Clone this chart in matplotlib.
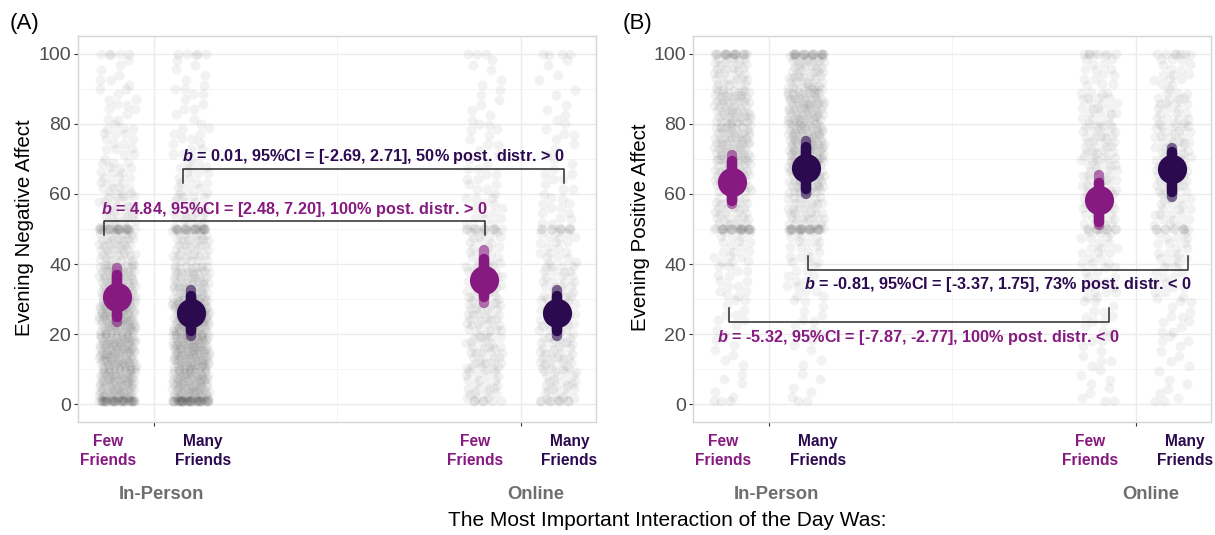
import matplotlib
matplotlib.use('Agg')
import matplotlib.pyplot as plt
from matplotlib.transforms import blended_transform_factory

plt.rcParams['font.family'] = ['Liberation Sans', 'DejaVu Sans']
plt.rcParams['mathtext.fontset'] = 'custom'
plt.rcParams['mathtext.rm'] = 'Liberation Sans:bold'
plt.rcParams['mathtext.bfit'] = 'Liberation Sans:bold:italic'

# categories (order of groups: in-person few, in-person many, online few, online many)
modes = ['In-Person', 'Online']
friend_labels = ['Few\nFriends', 'Many\nFriends']
group_mode = [1, 1, 2, 2]
group_friend = [0, 1, 0, 1]
friend_colors = ['#861A80', '#2C0A4F']

# posterior estimates
neg_est = [30.6, 26.0, 35.5, 26.2]
neg_lo_outer = [23.5, 19.5, 29.0, 19.5]
neg_hi_outer = [39.0, 32.5, 44.0, 32.5]
neg_lo_inner = [25.0, 21.0, 30.5, 21.0]
neg_hi_inner = [37.0, 31.0, 41.5, 31.0]

pos_est = [63.5, 67.5, 58.3, 67.0]
pos_lo_outer = [57.0, 60.0, 51.0, 59.0]
pos_hi_outer = [71.0, 75.0, 65.5, 73.0]
pos_lo_inner = [58.0, 61.5, 52.0, 60.5]
pos_hi_inner = [69.5, 73.5, 63.0, 72.0]

# raw responses: approximate counts per 10-point bin, plus heaped values
bin_edges = [1, 10, 20, 30, 40, 50, 60, 70, 80, 90, 100]
heap_values = [1, 50, 100]

neg_bins_ip_few = [85, 100, 95, 65, 45, 28, 22, 17, 12, 8]
neg_bins_ip_many = [90, 105, 95, 60, 40, 25, 18, 14, 10, 7]
neg_bins_on_few = [24, 33, 35, 30, 22, 16, 13, 10, 7, 5]
neg_bins_on_many = [26, 33, 33, 26, 19, 14, 11, 8, 6, 5]
neg_heaps_ip_few = [30, 18, 4]
neg_heaps_ip_many = [35, 18, 4]
neg_heaps_on_few = [6, 10, 3]
neg_heaps_on_many = [8, 8, 3]

pos_bins_ip_few = [6, 7, 10, 14, 20, 35, 50, 60, 55, 35]
pos_bins_ip_many = [5, 6, 9, 13, 20, 38, 60, 75, 70, 45]
pos_bins_on_few = [7, 9, 12, 15, 19, 23, 28, 30, 25, 17]
pos_bins_on_many = [6, 8, 11, 14, 18, 23, 28, 30, 25, 17]
pos_heaps_ip_few = [2, 18, 14]
pos_heaps_ip_many = [2, 20, 18]
pos_heaps_on_few = [2, 9, 5]
pos_heaps_on_many = [2, 9, 5]

# contrasts
neg_few_text = '4.84, 95%CI = [2.48, 7.20], 100% post. distr. > 0'
neg_many_text = '0.01, 95%CI = [-2.69, 2.71], 50% post. distr. > 0'
pos_few_text = '-5.32, 95%CI = [-7.87, -2.77], 100% post. distr. < 0'
pos_many_text = '-0.81, 95%CI = [-3.37, 1.75], 73% post. distr. < 0'

dodge = 0.1
jit = 0.05


def cloud(ax, xc, counts, heaps, phase):
    # quasi-random (R2 sequence) placement of the binned responses
    xs, ys = [], []
    k = 0
    for lo, hi, n in zip(bin_edges[:-1], bin_edges[1:], counts):
        for i in range(n):
            ys.append(lo + ((k * 0.5698403 + phase) % 1) * (hi - lo))
            xs.append(xc + jit * (2 * ((k * 0.7548777 + phase) % 1) - 1))
            k += 1
    for v, n in zip(heap_values, heaps):
        for i in range(n):
            ys.append(v)
            xs.append(xc + jit * (2 * ((k * 0.7548777 + phase) % 1) - 1))
            k += 1
    ax.scatter(xs, ys, s=52, color='black', alpha=0.05, linewidths=0, zorder=2)


def bracket(ax, x0, x1, y, y_end, text, ty, color):
    ax.plot([x0, x0, x1, x1], [y_end, y, y, y_end], color='#2B2B2B', lw=1.1, zorder=6)
    ax.text((x0 + x1) / 2, ty, r'$\mathbfit{b}$ = ' + text, ha='center', va='center',
            color=color, fontsize=11.7, fontweight='bold', zorder=7)


fig = plt.figure(figsize=(12.15, 5.35), dpi=100)
ax1 = fig.add_axes([0.0642, 0.2112, 0.4263, 0.7215])
ax2 = fig.add_axes([0.5704, 0.2112, 0.4263, 0.7215])

panels = [
    (ax1, neg_est, neg_lo_outer, neg_hi_outer, neg_lo_inner, neg_hi_inner,
     [neg_bins_ip_few, neg_bins_ip_many, neg_bins_on_few, neg_bins_on_many],
     [neg_heaps_ip_few, neg_heaps_ip_many, neg_heaps_on_few, neg_heaps_on_many]),
    (ax2, pos_est, pos_lo_outer, pos_hi_outer, pos_lo_inner, pos_hi_inner,
     [pos_bins_ip_few, pos_bins_ip_many, pos_bins_on_few, pos_bins_on_many],
     [pos_heaps_ip_few, pos_heaps_ip_many, pos_heaps_on_few, pos_heaps_on_many]),
]

for ax, est, lo_o, hi_o, lo_i, hi_i, bins, heaps in panels:
    ax.set_xlim(0.793, 2.205)
    ax.set_ylim(-5, 105)
    ax.set_yticks([0, 20, 40, 60, 80, 100])
    ax.set_yticks([10, 30, 50, 70, 90], minor=True)
    ax.set_xticks([1, 2])
    ax.set_xticks([1.5], minor=True)
    ax.set_xticklabels([])
    ax.grid(which='major', color='#EBEBEB', lw=1.0, zorder=0)
    ax.grid(which='minor', color='#F2F2F2', lw=0.6, zorder=0)
    ax.set_axisbelow(True)
    for s in ax.spines.values():
        s.set_color('#D5D5D5')
        s.set_linewidth(1.0)
    ax.tick_params(axis='y', which='major', labelsize=14, labelcolor='#4D4D4D',
                   color='#333333', length=3, width=0.8, pad=2)
    ax.tick_params(axis='x', which='major', color='#333333', length=3, width=0.8)
    ax.tick_params(which='minor', length=0)

    for g in range(4):
        xc = group_mode[g] + (dodge if group_friend[g] else -dodge)
        cloud(ax, xc, bins[g], heaps[g], 0.13 * g)
    for g in range(4):
        xc = group_mode[g] + (dodge if group_friend[g] else -dodge)
        c = friend_colors[group_friend[g]]
        ax.plot([xc, xc], [lo_o[g], hi_o[g]], color=c, lw=7.5, alpha=0.6,
                solid_capstyle='round', zorder=4)
        ax.plot([xc, xc], [lo_i[g], hi_i[g]], color=c, lw=7.5,
                solid_capstyle='round', zorder=4)
        ax.plot([xc], [est[g]], 'o', color=c, markersize=21, markeredgewidth=0, zorder=5)

    trans = blended_transform_factory(ax.transData, ax.transAxes)
    for m, mode in enumerate(modes):
        ax.text(m + 1.04 if m else m + 1.02, -0.187, mode, transform=trans, ha='center',
                va='center', fontsize=13.3, fontweight='bold', color='#6E6E6E')
        for f, lab in enumerate(friend_labels):
            xl = m + 1 + (0.133 if f else -0.125)
            ax.text(xl, -0.075, lab, transform=trans, ha='center', va='center',
                    fontsize=11.2, fontweight='bold', color=friend_colors[f],
                    linespacing=1.4)

bracket(ax1, 1.079, 2.117, 67.2, 63.2, neg_many_text, 70.8, friend_colors[1])
bracket(ax1, 0.864, 1.902, 52.4, 48.4, neg_few_text, 55.6, friend_colors[0])
bracket(ax2, 1.106, 2.142, 38.2, 42.2, pos_many_text, 34.2, friend_colors[1])
bracket(ax2, 0.891, 1.926, 23.4, 27.4, pos_few_text, 19.1, friend_colors[0])

fig.text(25 / 1215, 0.575, 'Evening Negative Affect', rotation=90, ha='center', va='center', fontsize=14.8)
fig.text(640 / 1215, 0.575, 'Evening Positive Affect', rotation=90, ha='center', va='center', fontsize=14.8)
fig.text(10 / 1215, 1 - 23 / 535, '(A)', ha='left', va='center', fontsize=16)
fig.text(623 / 1215, 1 - 23 / 535, '(B)', ha='left', va='center', fontsize=16)
fig.text(667 / 1215, 14 / 535, 'The Most Important Interaction of the Day Was:',
         ha='center', va='center', fontsize=15)

fig.savefig('out.png', dpi=100)
